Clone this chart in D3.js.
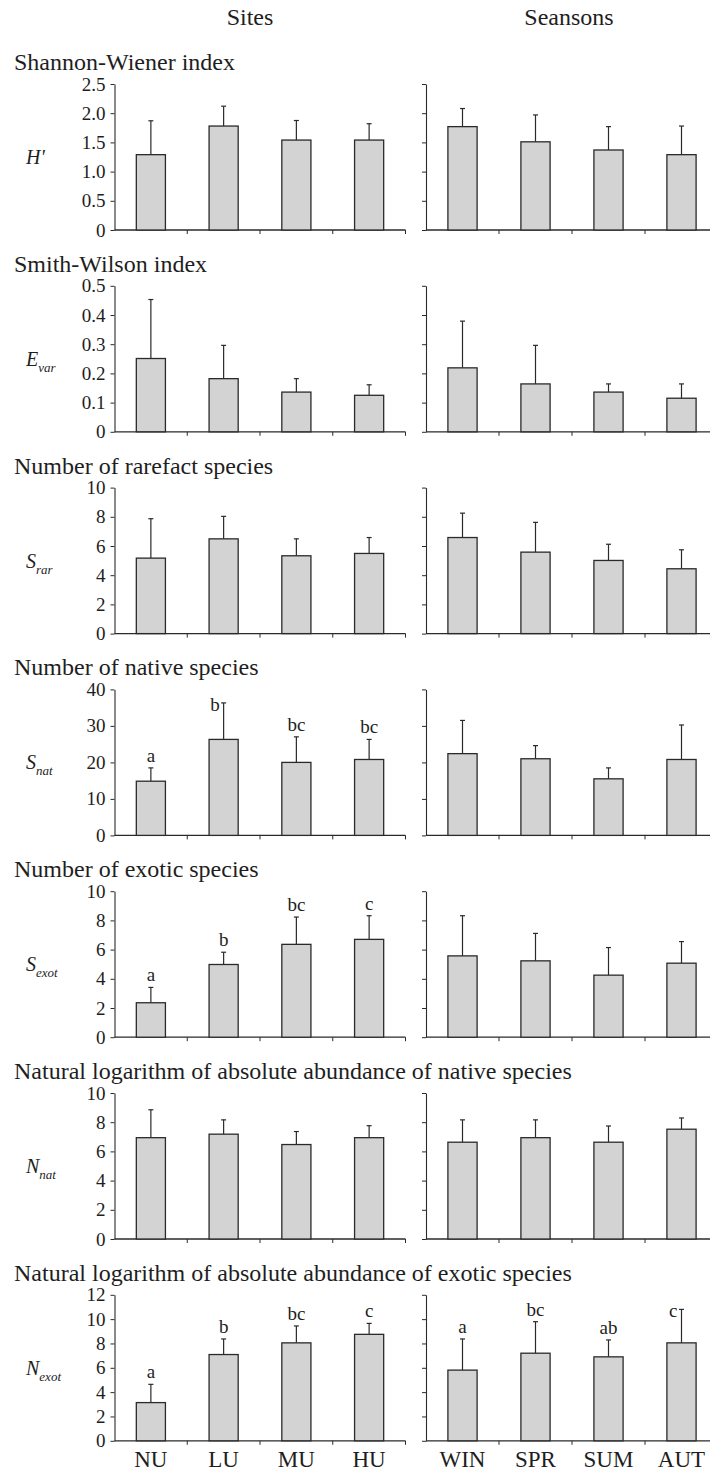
<!DOCTYPE html>
<html>
<head>
<meta charset="utf-8">
<script src="https://cdn.jsdelivr.net/npm/d3@7"></script>
<style>
  body { margin: 0; background: #fff; }
  svg { display: block; }
  svg text { font-family: "Liberation Serif", "DejaVu Serif", serif !important; fill: #1e1e1e; }
</style>
</head>
<body>
<svg id="chart" width="710" height="1471"></svg>
<script>
// ---- categories ----
const sites = ["NU", "LU", "MU", "HU"];
const seasons = ["WIN", "SPR", "SUM", "AUT"];
const groupTitles = ["Sites", "Seansons"];

// ---- panel titles and y-axis symbols ----
const panelTitles = [
  "Shannon-Wiener index",
  "Smith-Wilson index",
  "Number of rarefact species",
  "Number of native species",
  "Number of exotic species",
  "Natural logarithm of absolute abundance of native species",
  "Natural logarithm of absolute abundance of exotic species"
];
const symbolMain = ["H'", "E", "S", "S", "S", "N", "N"];
const symbolSub = ["", "var", "rar", "nat", "exot", "nat", "exot"];

// ---- means and standard deviations ----
const shannonSites = [1.29, 1.78, 1.54, 1.54];
const shannonSitesSD = [0.58, 0.34, 0.335, 0.28];
const shannonSeasons = [1.77, 1.51, 1.37, 1.29];
const shannonSeasonsSD = [0.31, 0.46, 0.40, 0.49];

const evarSites = [0.251, 0.182, 0.136, 0.125];
const evarSitesSD = [0.202, 0.114, 0.046, 0.036];
const evarSeasons = [0.219, 0.164, 0.136, 0.115];
const evarSeasonsSD = [0.160, 0.132, 0.028, 0.049];

const rarSites = [5.17, 6.49, 5.33, 5.49];
const rarSitesSD = [2.70, 1.54, 1.16, 1.09];
const rarSeasons = [6.58, 5.58, 5.01, 4.44];
const rarSeasonsSD = [1.67, 2.04, 1.11, 1.30];

const natSites = [14.85, 26.3, 20.0, 20.8];
const natSitesSD = [3.65, 10.0, 7.0, 5.5];
const natSeasons = [22.4, 21.0, 15.5, 20.8];
const natSeasonsSD = [9.1, 3.6, 3.0, 9.45];

const exotSites = [2.36, 4.98, 6.36, 6.70];
const exotSitesSD = [1.05, 0.84, 1.87, 1.62];
const exotSeasons = [5.57, 5.23, 4.25, 5.07];
const exotSeasonsSD = [2.75, 1.88, 1.89, 1.48];

const lnNatSites = [6.94, 7.18, 6.47, 6.94];
const lnNatSitesSD = [1.91, 0.98, 0.89, 0.82];
const lnNatSeasons = [6.63, 6.94, 6.63, 7.52];
const lnNatSeasonsSD = [1.53, 1.22, 1.11, 0.77];

const lnExotSites = [3.14, 7.09, 8.05, 8.75];
const lnExotSitesSD = [1.50, 1.28, 1.39, 0.90];
const lnExotSeasons = [5.81, 7.20, 6.90, 8.05];
const lnExotSeasonsSD = [2.56, 2.59, 1.39, 2.75];

// ---- significance letters ----
const natSitesLetters = ["a", "b", "bc", "bc"];
const exotSitesLetters = ["a", "b", "bc", "c"];
const lnExotSitesLetters = ["a", "b", "bc", "c"];
const lnExotSeasonsLetters = ["a", "bc", "ab", "c"];

// ---- y-axis ticks ----
const yTicks = [
  [0, 0.5, 1, 1.5, 2, 2.5],
  [0, 0.1, 0.2, 0.3, 0.4, 0.5],
  [0, 2, 4, 6, 8, 10],
  [0, 10, 20, 30, 40],
  [0, 2, 4, 6, 8, 10],
  [0, 2, 4, 6, 8, 10],
  [0, 2, 4, 6, 8, 10, 12]
];
const yTickLabels = [
  ["0", "0.5", "1.0", "1.5", "2.0", "2.5"],
  ["0", "0.1", "0.2", "0.3", "0.4", "0.5"],
  ["0", "2", "4", "6", "8", "10"],
  ["0", "10", "20", "30", "40"],
  ["0", "2", "4", "6", "8", "10"],
  ["0", "2", "4", "6", "8", "10"],
  ["0", "2", "4", "6", "8", "10", "12"]
];

// ---- assemble panels ----
const panels = [
  { sites: [shannonSites, shannonSitesSD, null], seasons: [shannonSeasons, shannonSeasonsSD, null] },
  { sites: [evarSites, evarSitesSD, null], seasons: [evarSeasons, evarSeasonsSD, null] },
  { sites: [rarSites, rarSitesSD, null], seasons: [rarSeasons, rarSeasonsSD, null] },
  { sites: [natSites, natSitesSD, natSitesLetters], seasons: [natSeasons, natSeasonsSD, null] },
  { sites: [exotSites, exotSitesSD, exotSitesLetters], seasons: [exotSeasons, exotSeasonsSD, null] },
  { sites: [lnNatSites, lnNatSitesSD, null], seasons: [lnNatSeasons, lnNatSeasonsSD, null] },
  { sites: [lnExotSites, lnExotSitesSD, lnExotSitesLetters], seasons: [lnExotSeasons, lnExotSeasonsSD, lnExotSeasonsLetters] }
];

// ---- layout ----
const serif = '"Liberation Serif", "DejaVu Serif", serif';
const svg = d3.select("#chart");
svg.append("rect").attr("width", 710).attr("height", 1471).attr("fill", "#fff");

const firstTop = 84, panelStep = 201.8, plotH = 146;
const groupRanges = [[114.5, 405.5], [426, 718]];
const barFill = "#d3d3d3", ink = "#2a2a2a";

// column headers
const headerX = [250, 569];
groupTitles.forEach((t, g) => {
  svg.append("text").attr("x", headerX[g]).attr("y", 25)
    .attr("font-family", serif)
    .attr("text-anchor", "middle").attr("font-size", 24).text(t);
});

panels.forEach((p, i) => {
  const top = firstTop + i * panelStep;
  const ticks = yTicks[i];
  const yMax = ticks[ticks.length - 1];
  const y = d3.scaleLinear().domain([0, yMax]).range([top + plotH, top]);

  // panel title
  svg.append("text").attr("x", 14).attr("y", top - 14)
    .attr("font-family", serif)
    .attr("font-size", 24).text(panelTitles[i]);

  // y-axis symbol with subscript
  const sym = svg.append("text").attr("x", 26).attr("y", top + plotH / 2 + 7)
    .attr("font-family", serif)
    .attr("font-size", 20).attr("font-style", "italic");
  sym.append("tspan").text(symbolMain[i]);
  if (symbolSub[i]) {
    sym.append("tspan").attr("font-size", 13).attr("dy", 6).text(symbolSub[i]);
  }

  [["sites", sites], ["seasons", seasons]].forEach(([key, cats], g) => {
    const [means, sds, letters] = p[key];
    const [x0, x1] = groupRanges[g];
    const x = d3.scaleBand().domain(cats).range([x0, x1])
      .paddingInner(0.6).paddingOuter(0.3);
    const step = x.step();
    const gp = svg.append("g");

    // y axis (labels only on the left group)
    const yAxis = d3.axisLeft(y).tickValues(ticks).tickSize(4).tickSizeOuter(0)
      .tickFormat((d, k) => g === 0 ? yTickLabels[i][k] : "");
    const ya = gp.append("g").attr("transform", `translate(${x0},0)`).call(yAxis)
      .attr("font-family", serif);
    ya.select(".domain").attr("stroke", ink).attr("stroke-width", 1.1);
    ya.selectAll(".tick line").attr("stroke", ink).attr("stroke-width", 1);
    ya.selectAll(".tick text").attr("font-size", 19)
      .attr("font-family", serif)
      .attr("fill", "#1e1e1e").attr("x", -9);

    // x axis line with ticks at category boundaries
    gp.append("line").attr("x1", x0).attr("x2", x1)
      .attr("y1", y(0)).attr("y2", y(0))
      .attr("stroke", ink).attr("stroke-width", 1.3);
    gp.selectAll(".xtick").data(cats).join("line")
      .attr("x1", d => x(d) + x.bandwidth() + (step - x.bandwidth()) / 2)
      .attr("x2", d => x(d) + x.bandwidth() + (step - x.bandwidth()) / 2)
      .attr("y1", y(0)).attr("y2", y(0) + 4)
      .attr("stroke", ink).attr("stroke-width", 1);

    const rows = cats.map((c, k) => ({ c, m: means[k], sd: sds[k], l: letters ? letters[k] : null }));

    // error bars (upper side only)
    const cx = d => x(d.c) + x.bandwidth() / 2;
    gp.selectAll(".err").data(rows).join("line")
      .attr("x1", cx).attr("x2", cx)
      .attr("y1", d => y(d.m)).attr("y2", d => y(d.m + d.sd))
      .attr("stroke", ink).attr("stroke-width", 1.2);
    gp.selectAll(".cap").data(rows).join("line")
      .attr("x1", d => cx(d) - 2.5).attr("x2", d => cx(d) + 2.5)
      .attr("y1", d => y(d.m + d.sd)).attr("y2", d => y(d.m + d.sd))
      .attr("stroke", ink).attr("stroke-width", 1.2);

    // bars
    gp.selectAll(".bar").data(rows).join("rect")
      .attr("x", d => x(d.c)).attr("width", x.bandwidth())
      .attr("y", d => y(d.m)).attr("height", d => y(0) - y(d.m))
      .attr("fill", barFill).attr("stroke", ink).attr("stroke-width", 1.3);

    // significance letters
    if (letters) {
      gp.selectAll(".sig").data(rows).join("text")
        .attr("font-family", serif)
        .attr("font-size", 19)
        .each(function (d) {
          const yt = y(d.m + d.sd);
          const crowded = yt - top < 20;
          d3.select(this)
            .attr("x", crowded ? cx(d) - 4 : cx(d))
            .attr("y", crowded ? yt + 8 : yt - 6)
            .attr("text-anchor", crowded ? "end" : "middle")
            .text(d.l);
        });
    }

    // category labels under the last panel
    if (i === panels.length - 1) {
      gp.selectAll(".cat").data(cats).join("text")
        .attr("font-family", serif)
        .attr("x", d => x(d) + x.bandwidth() / 2).attr("y", 1466.5)
        .attr("text-anchor", "middle").attr("font-size", 23).text(d => d);
    }
  });
});
</script>
</body>
</html>
